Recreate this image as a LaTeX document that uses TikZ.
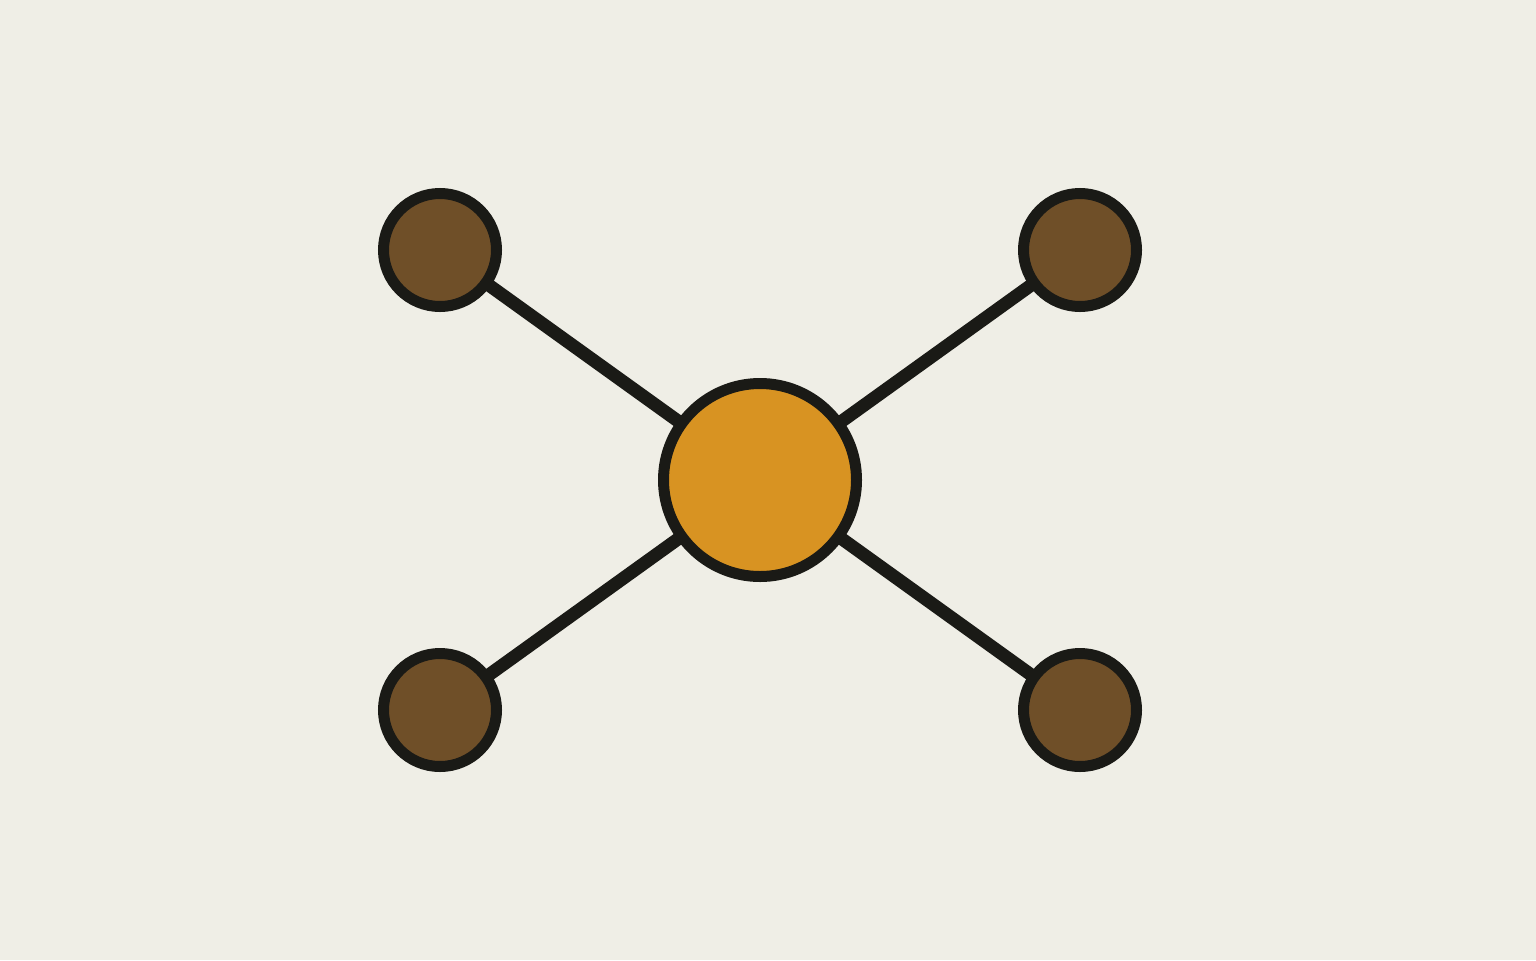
\documentclass[tikz,border=0pt]{standalone}
\usetikzlibrary{backgrounds}
\definecolor{paper}{HTML}{EFEEE6}
\definecolor{ink}{HTML}{1A1A16}
\definecolor{hubfill}{HTML}{D89322}
\definecolor{leaffill}{HTML}{6F4F28}
\tikzset{
  hub/.style={circle,draw=ink,fill=hubfill,line width=0.11cm,inner sep=0pt,minimum size=1.93cm},
  leaf/.style={circle,draw=ink,fill=leaffill,line width=0.11cm,inner sep=0pt,minimum size=1.13cm},
  spoke/.style={ink,line width=0.13cm}
}
\begin{document}
\begin{tikzpicture}
              \node[hub](h)at(7.6,4.8){};
              \node[leaf](nw)at(4.4,7.1){};
              \node[leaf](ne)at(10.8,7.1){};
              \node[leaf](sw)at(4.4,2.5){};
              \node[leaf](se)at(10.8,2.5){};
              \begin{pgfonlayer}{background}
              \fill[paper](0,0)rectangle(15.36,9.6);
              \draw[spoke](h.center)--(nw.center);
              \draw[spoke](h.center)--(ne.center);
              \draw[spoke](h.center)--(sw.center);
              \draw[spoke](h.center)--(se.center);
              \end{pgfonlayer}
            \end{tikzpicture}
\end{document}
